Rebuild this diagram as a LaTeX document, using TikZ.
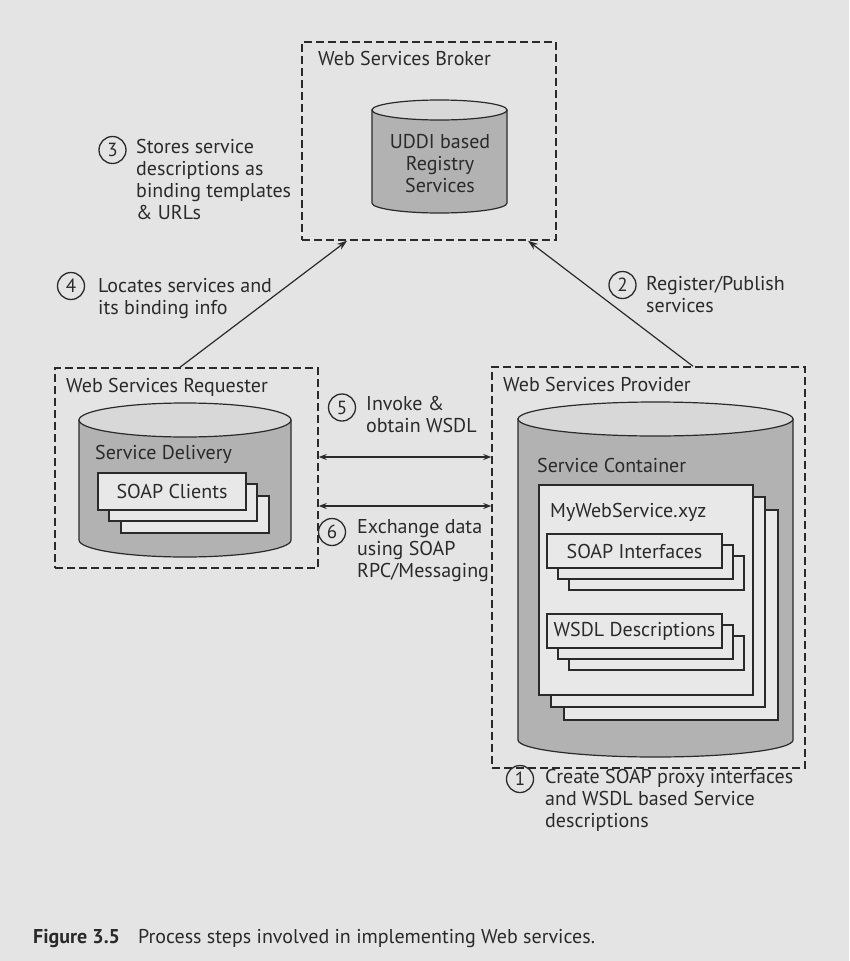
\documentclass[tikz,border=0pt]{standalone}
\usepackage{fontspec}
\setmainfont{PT Sans}
\usetikzlibrary{arrows.meta,positioning}
\definecolor{bg}{HTML}{E4E4E4}
\definecolor{ink}{HTML}{2A2A2A}
\definecolor{cylbody}{HTML}{B2B2B2}
\definecolor{cyltop}{HTML}{D8D8D8}
\definecolor{pagefill}{HTML}{E8E8E8}

\begin{document}
\begin{tikzpicture}[x=1pt,y=-1pt,
    zone/.style={draw=ink,dash pattern=on 8pt off 4pt,line width=1.5pt},
    lbl/.style={font=\fontsize{20}{22}\selectfont,text=ink,inner sep=0pt,align=left},
    num/.style={circle,draw=ink,line width=1.3pt,minimum size=27pt,inner sep=0pt,
      font=\fontsize{19}{19}\selectfont,text=ink},
    cyl/.style={draw=ink,line width=1.2pt,fill=cylbody},
    page/.style={draw=ink,line width=1.1pt,fill=pagefill,font=\fontsize{20}{22}\selectfont,text=ink},
    arrow/.style={-{Stealth[length=10pt,width=7pt]},line width=1.2pt,draw=ink},
    darrow/.style={{Stealth[length=8pt,width=6pt]}-{Stealth[length=8pt,width=6pt]},line width=1.2pt,draw=ink}]
    \fill[bg] (0,0) rectangle (849,961);

    % broker
    \node[zone,minimum width=254pt,minimum height=198pt] (broker) at (429,141) {};
    \node[lbl,anchor=base west] (brokertitle) at (318,65) {Web Services Broker};
    \draw[cyl] (372,110) -- (372,203) arc[start angle=180,end angle=0,x radius=67.5,y radius=10] -- (507,110) -- cycle;
    \draw[cyl,fill=cyltop] (439.5,110) ellipse[x radius=67.5,y radius=10];
    \node[lbl,align=center,anchor=base] (uddi) at (440,192) {UDDI based\\Registry\\Services};

    % requester
    \node[zone,minimum width=263pt,minimum height=200pt] (req) at (186.5,468) {};
    \node[lbl,anchor=base west] (reqtitle) at (66,392) {Web Services Requester};
    \draw[cyl] (79,420) -- (79,540) arc[start angle=180,end angle=0,x radius=106,y radius=17] -- (291,420) -- cycle;
    \draw[cyl,fill=cyltop] (185,420) ellipse[x radius=106,y radius=17];
    \node[lbl,anchor=base west] (delivery) at (95,459) {Service Delivery};
    \foreach \d in {23,11}
      \draw[page] (98+\d,473+\d) rectangle ++(148,37);
    \node[page,minimum width=148pt,minimum height=37pt] (clients) at (172,491.5) {SOAP Clients};

    % provider
    \node[zone,minimum width=313pt,minimum height=401pt] (prov) at (648.5,567.5) {};
    \node[lbl,anchor=base west] (provtitle) at (503,391) {Web Services Provider};
    \draw[cyl] (518,419) -- (518,740) arc[start angle=180,end angle=0,x radius=137.5,y radius=17] -- (793,419) -- cycle;
    \draw[cyl,fill=cyltop] (655.5,419) ellipse[x radius=137.5,y radius=17];
    \node[lbl,anchor=base west] (container) at (537,472) {Service Container};
    \foreach \d in {25,12}
      \draw[page] (539+\d,485+\d) rectangle ++(214,210);
    \node[page,minimum width=214pt,minimum height=210pt] (mysvc) at (646,590) {};
    \node[lbl,anchor=base west] (mysvctitle) at (550,517) {MyWebService.xyz};
    \foreach \d in {22,11}
      \draw[page] (547+\d,534+\d) rectangle ++(175,34);
    \node[page,minimum width=175pt,minimum height=34pt] (soapif) at (634.5,551) {SOAP Interfaces};
    \foreach \d in {22,11}
      \draw[page] (547+\d,614+\d) rectangle ++(175,34);
    \node[page,minimum width=175pt,minimum height=34pt] (wsdl) at (634.5,631) {WSDL Descriptions};

    % steps
    \node[num] (n1) at (520,779) {1};
    \node[lbl,anchor=base west] (t1) at (545,827) {Create SOAP proxy interfaces\\and WSDL based Service\\descriptions};
    \node[num] (n2) at (622.5,285) {2};
    \node[lbl,anchor=base west] (t2) at (646,312) {Register/Publish\\services};
    \node[num] (n3) at (112.5,150) {3};
    \node[lbl,anchor=base west] (t3) at (136,219) {Stores service\\descriptions as\\binding templates\\\& URLs};
    \node[num] (n4) at (71,286) {4};
    \node[lbl,anchor=base west] (t4) at (98,314) {Locates services and\\its binding info};
    \node[num] (n5) at (342,407.5) {5};
    \node[lbl,anchor=base west] (t5) at (366,432) {Invoke \&\\obtain WSDL};
    \node[num] (n6) at (332,532) {6};
    \node[lbl,anchor=base west] (t6) at (357,577) {Exchange data\\using SOAP\\RPC/Messaging};

    \draw[arrow] ([xshift=-6.5pt]req.north) -- ([xshift=-82pt]broker.south);
    \draw[arrow] ([xshift=44.5pt]prov.north) -- ([xshift=99pt]broker.south);
    \draw[darrow] ([yshift=11pt]req.east) coordinate (in5) -- (in5 -| prov.west);
    \draw[darrow] ([yshift=-38pt]req.east) coordinate (in6) -- (in6 -| prov.west);

    \node[lbl,anchor=base west] (caption) at (33,943) {\textbf{Figure 3.5}\hspace{0.9em}Process steps involved in implementing Web services.};
  \end{tikzpicture}
\end{document}
